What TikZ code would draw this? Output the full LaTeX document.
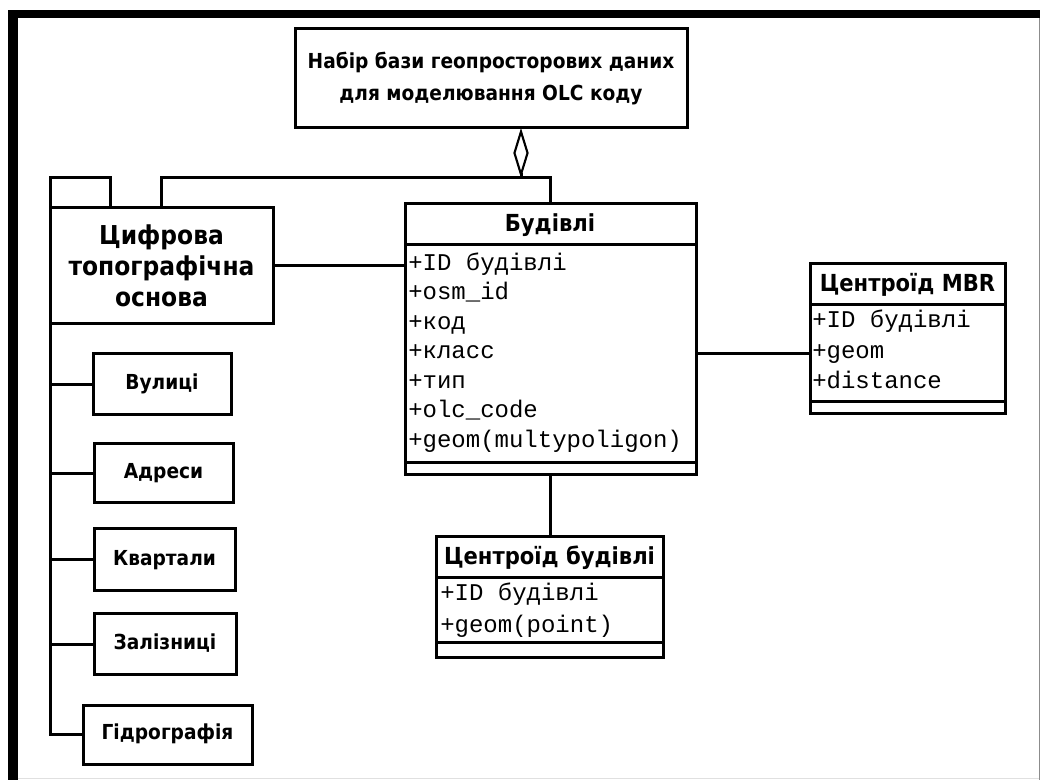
\documentclass[tikz,border=0pt]{standalone}
\usepackage{fontspec}
\usetikzlibrary{arrows.meta}
\newfontfamily\hfont{DejaVu Sans}[FakeStretch=0.9]
\newfontfamily\mfont{Liberation Mono}
\tikzset{
  area/.style n args={4}{minimum width={(#3-#1)*0.75pt}, minimum height={(#4-#2)*0.75pt}, at={({(#1+#3)/2},{(#2+#4)/2})}},
  box/.style={draw, line width=2.25pt, inner sep=0pt, outer sep=0pt, fill=white, rectangle},
  conn/.style={line width=2.25pt},
  sepline/.style={line width=2.25pt},
  htop/.style={font=\hfont\bfseries\fontsize{15.5}{24}\selectfont, align=center},
  hbig/.style={font=\hfont\bfseries\fontsize{19.5}{23.25}\selectfont, align=center},
  hmid/.style={font=\hfont\bfseries\fontsize{17.6}{22}\selectfont, inner sep=0pt, text height=13pt, text depth=3pt},
  hsmall/.style={font=\hfont\bfseries\fontsize{15.5}{20}\selectfont, text height=11pt, text depth=3pt},
  attr/.style={font=\mfont\fontsize{18}{20}\selectfont, anchor=west, inner sep=0pt, text height=11pt, text depth=3pt},
}
\begin{document}
\begin{tikzpicture}[x=0.75pt,y=-0.75pt]
\useasboundingbox (0,0) rectangle (1040,780);
\fill[white] (0,0) rectangle (1040,780);
% frame
\fill[black] (8,10) rectangle (1040,18);
\fill[black] (8,10) rectangle (18,780);
\draw[black!45, line width=0.75pt] (1039,18) -- (1039,780);
\draw[black!12, line width=0.75pt] (18,778.5) -- (1039,778.5);

% top box
\node[box, htop, area={295}{29}{687}{128}] (top) {Набір бази геопросторових даних\\для моделювання OLC коду};

% package: Цифрова топографічна основа
\node[box, area={50}{178}{110}{208}] (tab) {};
\node[box, hbig, area={50}{208}{273}{324}] (cif) {Цифрова\\топографічна\\основа};

% Будівлі
\node[box, area={405}{204}{696}{475}] (bud) {};
\draw[sepline] (405,245) -- (696,245);
\draw[sepline] (405,463) -- (696,463);
\node[hmid] (budh) at (550,225) {Будівлі};
\node[attr] (bud1) at (408,265) {+ID будівлі};
\node[attr] (bud2) at (408,294.5) {+osm\_id};
\node[attr] (bud3) at (408,324) {+код};
\node[attr] (bud4) at (408,353.5) {+класс};
\node[attr] (bud5) at (408,383) {+тип};
\node[attr] (bud6) at (408,412.5) {+olc\_code};
\node[attr] (bud7) at (408,442) {+geom(multypoligon)};

% Центроїд MBR
\node[box, area={810}{264}{1005}{414}] (mbr) {};
\draw[sepline] (810,305) -- (1005,305);
\draw[sepline] (810,402) -- (1005,402);
\node[hmid] (mbrh) at (907.5,285) {Центроїд MBR};
\node[attr] (mbr1) at (812,322) {+ID будівлі};
\node[attr] (mbr2) at (812,353) {+geom};
\node[attr] (mbr3) at (812,383) {+distance};

% Центроїд будівлі
\node[box, area={436}{537}{663}{658}] (cb) {};
\draw[sepline] (436,578) -- (663,578);
\draw[sepline] (436,643) -- (663,643);
\node[hmid] (cbh) at (549.5,558) {Центроїд будівлі};
\node[attr] (cb1) at (440,595) {+ID будівлі};
\node[attr] (cb2) at (440,627) {+geom(point)};

% small boxes
\node[box, hsmall, area={93}{354}{231}{415}] (vul) {Вулиці};
\node[box, hsmall, area={94}{444}{233}{503}] (adr) {Адреси};
\node[box, hsmall, area={94}{529}{235}{591}] (kva) {Квартали};
\node[box, hsmall, area={94}{614}{236}{675}] (zal) {Залізниці};
\node[box, hsmall, area={83}{705}{252}{764}] (gid) {Гідрографія};

% connectors
\coordinate (agg) at (521,178);
\draw[conn] (cif.north) |- (agg);
\draw[conn] (bud.north) |- (agg);
\draw[conn, -{Diamond[open, length=37.5pt, width=11.5pt, line width=1.6pt]}] (agg) -- (agg |- top.south);
\draw[conn] (cif.east) -- (cif.east -| bud.west);
\draw[conn] ([yshift=-11.25pt]mbr.west) -- ([yshift=-11.25pt]mbr.west -| bud.east);
\draw[conn] (bud.south) -- (bud.south |- cb.north);
\draw[conn] (cif.south west) |- (gid.west);
\draw[conn] (vul.west) -- (vul.west -| cif.south west);
\draw[conn] (adr.west) -- (adr.west -| cif.south west);
\draw[conn] (kva.west) -- (kva.west -| cif.south west);
\draw[conn] (zal.west) -- (zal.west -| cif.south west);
\end{tikzpicture}
\end{document}
